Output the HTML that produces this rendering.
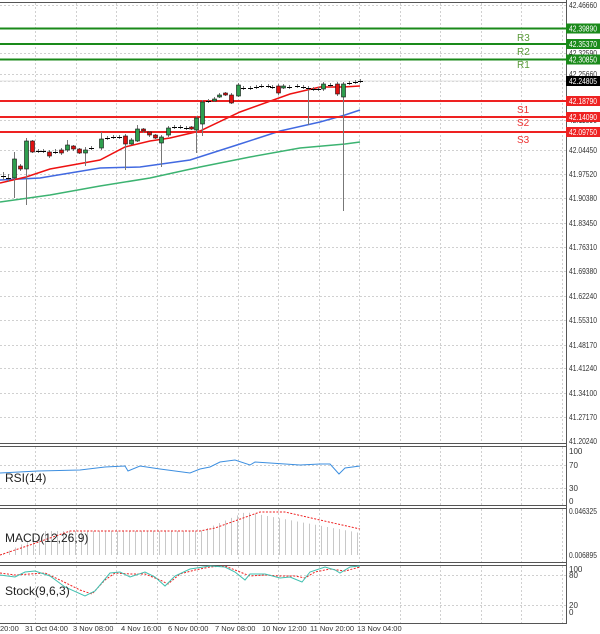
<!DOCTYPE html>
<html><head><meta charset="utf-8"><style>
body{margin:0;background:#fff}
svg{display:block;font-family:"Liberation Sans",sans-serif}
</style></head><body>
<svg id="s" width="600" height="634" viewBox="0 0 600 634" xmlns="http://www.w3.org/2000/svg">
<rect width="600" height="634" fill="#fff"/>
<g id="grid" stroke="#d0d0d0" stroke-dasharray="2,2" stroke-width="1"></g>
<polyline fill="none" stroke="#3cb371" stroke-width="1.5" points="0,202 50,195 100,186 150,178 200,167 250,157 300,148 345,144 360,142"/>
<polyline fill="none" stroke="#4169e1" stroke-width="1.5" points="0,180 40,178 100,168 140,167 190,160 240,144 280,131 320,122 345,115 360,110"/>
<polyline fill="none" stroke="#ee1111" stroke-width="1.5" points="0,183 26,177 50,169 100,160 125,147 150,141 170,138 200,131 240,112 290,94 320,87 343,87 360,86"/>
<g stroke-width="2">
<line x1="0" x2="566" y1="28.5" y2="28.5" stroke="#1a8a1a"/>
<line x1="0" x2="566" y1="44" y2="44" stroke="#1a8a1a"/>
<line x1="0" x2="566" y1="59.5" y2="59.5" stroke="#1a8a1a"/>
<line x1="0" x2="566" y1="101" y2="101" stroke="#ee2222"/>
<line x1="0" x2="566" y1="117" y2="117" stroke="#ee2222"/>
<line x1="0" x2="566" y1="132" y2="132" stroke="#ee2222"/>
</g>
<line x1="0" x2="566" y1="81" y2="81" stroke="#e0e0e0"/>
<g font-size="10">
<text x="517" y="41" fill="#5a9a3a">R3</text>
<text x="517" y="55" fill="#5a9a3a">R2</text>
<text x="517" y="68" fill="#5a9a3a">R1</text>
<text x="517" y="113" fill="#ee3333">S1</text>
<text x="517" y="126" fill="#ee3333">S2</text>
<text x="517" y="143" fill="#ee3333">S3</text>
</g>
<g id="candles"></g>
<g fill="none" stroke="#555" stroke-width="1">
<line x1="0" y1="2.5" x2="566" y2="2.5"/>
<line x1="566.5" y1="0" x2="566.5" y2="624"/>
<line x1="0" y1="443.5" x2="566" y2="443.5"/>
<line x1="0" y1="446.5" x2="566" y2="446.5"/>
<line x1="0" y1="505.5" x2="566" y2="505.5"/>
<line x1="0" y1="508.5" x2="566" y2="508.5"/>
<line x1="0" y1="562.5" x2="566" y2="562.5"/>
<line x1="0" y1="565.5" x2="566" y2="565.5"/>
<line x1="0" y1="623.5" x2="566" y2="623.5"/>
</g>
<g id="axis" font-size="8" fill="#333"></g>
<polyline fill="none" stroke="#3d8fe0" stroke-width="1" points="0,473 38,471 80,470 105,467 125,466 128,471 140,466 160,469 190,473 200,469 210,467 220,462 235,460 250,465 255,462 270,463 300,465 320,464 330,464 339,474 345,468 360,466"/>
<text x="5" y="482" font-size="12" fill="#222">RSI(14)</text>
<g id="macd" stroke="#c8c8c8" stroke-width="1"></g>
<polyline fill="none" stroke="#ee2222" stroke-dasharray="2,1.5" stroke-width="1" points="0,555 30,545 70,531 200,531 215,528 260,512 285,512 320,520 360,529"/>
<text x="5" y="542" font-size="12" fill="#222">MACD(12,26,9)</text>
<polyline fill="none" stroke="#ee2222" stroke-dasharray="2,1.5" stroke-width="1" points="0,573 15,575 30,574 45,573 60,580 80,590 92,594 105,580 115,573 130,574 145,574 160,580 168,584 180,574 195,570 210,567 225,566 240,572 250,576 265,575 280,576 295,576 305,578 315,572 330,569 345,571 360,567"/>
<polyline fill="none" stroke="#40c0b0" stroke-width="1" points="0,575 15,577 25,572 35,571 50,576 65,587 85,596 95,591 110,573 120,572 130,577 145,572 155,577 165,586 175,576 190,569 210,566 225,567 235,572 245,580 250,574 265,574 280,578 290,577 302,582 310,572 325,567 335,570 340,573 350,567 360,566"/>
<text x="5" y="595" font-size="12" fill="#222">Stock(9,6,3)</text>
<g font-size="7.5" fill="#333">
<text x="0" y="631">20:00</text>
<text x="25" y="631">31 Oct 04:00</text>
<text x="73" y="631">3 Nov 08:00</text>
<text x="121" y="631">4 Nov 16:00</text>
<text x="168" y="631">6 Nov 00:00</text>
<text x="215" y="631">7 Nov 08:00</text>
<text x="262" y="631">10 Nov 12:00</text>
<text x="310" y="631">11 Nov 20:00</text>
<text x="357" y="631">13 Nov 04:00</text>
</g>
</svg>
<script>
var NS="http://www.w3.org/2000/svg";
function el(p,t,a,txt){var e=document.createElementNS(NS,t);for(var k in a)e.setAttribute(k,a[k]);if(txt!=null)e.textContent=txt;p.appendChild(e);return e;}
var g=document.getElementById('grid');
var hy=[5,28,44,53,59,74,81,101,117,120,132,150,174,198,223,247,271,296,320,345,368,393,417];
hy.forEach(function(y){el(g,'line',{x1:0,x2:566,y1:y+.5,y2:y+.5});});
for(var x=35;x<566;x+=40.5){
 [[3,443],[447,505],[509,562],[566,623]].forEach(function(r){el(g,'line',{x1:Math.round(x)+.5,x2:Math.round(x)+.5,y1:r[0],y2:r[1]});});
}
[465,488].forEach(function(y){el(g,'line',{x1:0,x2:566,y1:y+.5,y2:y+.5});});
[575,605].forEach(function(y){el(g,'line',{x1:0,x2:566,y1:y+.5,y2:y+.5});});
var ax=document.getElementById('axis');
var labs=[[5,"42.46660"],[53,"42.32590"],[74,"42.25660"],[120,"42.11590"],[150,"42.04450"],[174,"41.97520"],[198,"41.90380"],[223,"41.83450"],[247,"41.76310"],[271,"41.69380"],[296,"41.62240"],[320,"41.55310"],[345,"41.48170"],[368,"41.41240"],[393,"41.34100"],[417,"41.27170"],[441,"41.20240"],
[451,"100"],[465,"70"],[488,"30"],[501,"0"],[511,"0.046325"],[555,"0.006895"],[569,"100"],[575,"80"],[605,"20"],[612,"0"]];
labs.forEach(function(l){var a={x:569,y:l[0]+3};if(l[1].length>=8){a.textLength=28;a.lengthAdjust='spacingAndGlyphs';}el(ax,'text',a,l[1]);});
var boxes=[[28.5,"42.39890","#1a8a1a"],[44,"42.35370","#1a8a1a"],[59.5,"42.30850","#1a8a1a"],[81,"42.24805","#000"],[101,"42.18790","#ee2222"],[117,"42.14090","#ee2222"],[132,"42.09750","#ee2222"]];
boxes.forEach(function(b){el(ax,'rect',{x:566,y:b[0]-5,width:34,height:10,fill:b[2]});el(ax,'text',{x:569,y:b[0]+3,fill:'#fff',textLength:28,lengthAdjust:'spacingAndGlyphs'},b[1]);});
var C=[[3,176,176,172,180],[8,178,178,174,182],[14,178,159,152,198],[20,166,169,164,171],[26,169,141,138,205],[32,141,152,140,153],[38,151,151,149,153],[43,151,151,149,153],[49,152,156,150,158],[55,152,152,149,154],[61,150,153,148,155],[67,150,145,140,152],[73,146,149,145,151],[79,149,153,148,154],[85,153,150,147,166],[91,148,148,146,150],[101,148,139,132,150],[107,138,138,136,140],[113,137,137,135,139],[119,137,137,135,139],[125,136,144,134,170],[131,144,140,138,145],[137,141,129,125,142],[143,129,131,128,133],[149,132,135,131,137],[155,135,138,134,139],[161,143,137,135,167],[168,135,128,126,137],[174,127,127,125,129],[180,127,127,125,129],[186,128,128,126,130],[191,127,129,126,130],[196,130,118,116,153],[202,124,102,100,136],[208,101,101,99,103],[214,101,99,97,102],[219,97,95,93,98],[225,93,95,92,96],[231,95,103,93,104],[238,96,85,83,97],[243,88,88,86,90],[250,88,88,86,90],[256,87,87,85,89],[261,86,86,84,88],[268,86,86,84,88],[272,87,87,85,89],[278,86,93,84,95],[283,88,86,84,89],[289,87,87,85,89],[297,86,86,84,88],[303,87,87,85,89],[308,88,88,86,125],[313,89,89,87,91],[318,89,90,87,91],[323,89,84,82,91],[330,85,85,83,87],[337,84,94,82,96],[343,97,84,82,211],[349,83,83,81,85],[355,82,82,80,84],[360,81,81,79,83]];
var cg=document.getElementById('candles');
C.forEach(function(c){
 var x=c[0],o=c[1],cl=c[2],h=c[3],l=c[4];
 el(cg,'line',{x1:x+.5,x2:x+.5,y1:h,y2:l,stroke:'#777'});
 var t=Math.min(o,cl),b=Math.max(o,cl);
 if(b-t<1.5){el(cg,'line',{x1:x-2,x2:x+3,y1:t+.5,y2:t+.5,stroke:'#000'});}
 else el(cg,'rect',{x:x-1.5,y:t,width:4,height:b-t,fill:cl<o?'#2e9e4e':'#e01010',stroke:'#111','stroke-width':.6});
});
var mg=document.getElementById('macd');
function mtop(x){if(x<40)return 555-(x/40)*20; if(x<200)return 531; if(x<245)return 531-(x-200)/45*19; return 512+(x-245)/115*21;}
for(var x=3;x<=360;x+=6){el(mg,'line',{x1:x+.5,x2:x+.5,y1:mtop(x),y2:555});}
</script>
</body></html>
